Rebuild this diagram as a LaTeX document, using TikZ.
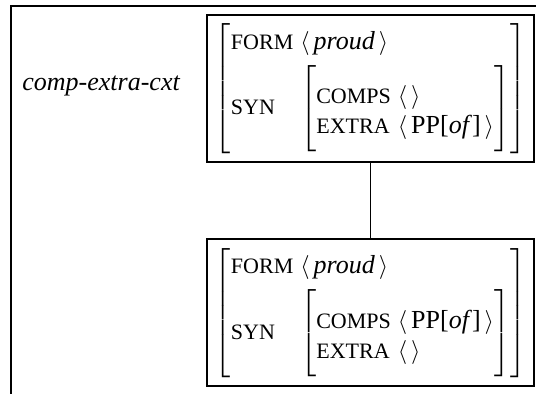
\documentclass[tikz,border=0pt]{standalone}
\usepackage{fontspec}
\setmainfont{Liberation Serif}
\usepackage{amsmath}
\delimitershortfall=0pt
\delimiterfactor=1000
\newcommand{\ftr}[1]{\text{\fontsize{11}{13}\selectfont #1}}
\newcommand{\lst}[1]{\langle\,\text{#1}\,\rangle}
\newcommand{\upstrut}[1]{\rule{0pt}{#1}}
\newcommand{\dnstrut}[1]{\rule[-#1]{0pt}{#1}}
\begin{document}
\begin{tikzpicture}[x=0.5pt,y=-0.5pt,
  avmbox/.style={draw,line width=1pt,inner sep=0pt,
    minimum width=163.5pt,minimum height=73.5pt,
    font=\fontsize{13}{13.5}\selectfont},
  frameline/.style={line width=1pt}]
\useasboundingbox (0,0) rectangle (536,394);
\clip (0,0) rectangle (536,394);
% frame
\draw[frameline] (11,400) -- (11,6) -- (540,6);
\node[anchor=base west,inner sep=0pt,font=\fontsize{13}{15}\selectfont\itshape] (label) at (22,91) {comp-extra-cxt};
% upper sign
\node[avmbox] (avmtop) at (370.5,88.5) {$\left[\begin{array}{@{}l@{\hspace{3.5pt}}l@{}}
  \ftr{FORM}\upstrut{12pt} & \lst{\textit{proud}}\\[4pt]
  \ftr{SYN} & \left[\begin{array}{@{}l@{\hspace{3.5pt}}l@{}}
    \ftr{COMPS}\upstrut{17.5pt} & \langle\,\rangle\\[1.5pt]
    \ftr{EXTRA}\dnstrut{7.5pt} & \lst{PP[\textit{of}]}
  \end{array}\right]
\end{array}\right]$};
% lower sign
\node[avmbox] (avmbot) at (370.5,313) {$\left[\begin{array}{@{}l@{\hspace{3.5pt}}l@{}}
  \ftr{FORM}\upstrut{12pt} & \lst{\textit{proud}}\\[4pt]
  \ftr{SYN} & \left[\begin{array}{@{}l@{\hspace{3.5pt}}l@{}}
    \ftr{COMPS}\upstrut{17.5pt} & \lst{PP[\textit{of}]}\\[1.5pt]
    \ftr{EXTRA}\dnstrut{7.5pt} & \langle\,\rangle
  \end{array}\right]
\end{array}\right]$};
\draw[line width=0.5pt] (avmtop) -- (avmbot);
\end{tikzpicture}
\end{document}
